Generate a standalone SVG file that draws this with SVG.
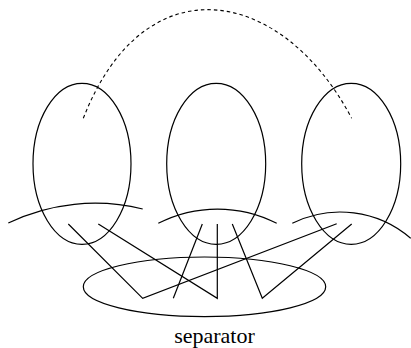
<svg xmlns="http://www.w3.org/2000/svg" width="411" height="348" viewBox="0 0 411 348">
<style>
.s{fill:none;stroke:#000;stroke-width:1.2;}
.d{fill:none;stroke:#000;stroke-width:1.1;stroke-dasharray:3.5 3;}
.t{font-family:"Liberation Serif","DejaVu Serif",serif;font-size:22px;fill:#000;}
</style>
<rect width="411" height="348" fill="#fff"/>
<g id="component-left"><ellipse class="s" cx="82" cy="163.8" rx="49" ry="80.5"/></g>
<g id="component-middle"><ellipse class="s" cx="216.2" cy="163.8" rx="49.5" ry="80.5"/></g>
<g id="component-right"><ellipse class="s" cx="351.2" cy="163.8" rx="49.5" ry="80.5"/></g>
<g id="separator"><ellipse class="s" cx="204.5" cy="286.8" rx="121.2" ry="29.8"/>
<text class="t" x="214.5" y="343.3" text-anchor="middle">separator</text></g>
<g id="connectors">
<path class="d" d="M83.3,118.3 C144.3,-38.3 281.7,-14.3 351.7,118.3"/>
<path class="s" d="M8.3,223 A200,200 0 0 1 142.7,209"/>
<path class="s" d="M158.3,223.3 A130,130 0 0 1 276.7,223.3"/>
<path class="s" d="M292.3,223.3 A107.6,107.6 0 0 1 410.7,238.3"/>
<polyline class="s" points="68.3,224 142.7,298.3 336.7,223.8"/>
<polyline class="s" points="98.3,224 217.3,298.3 217.3,224"/>
<line class="s" x1="202.3" y1="224" x2="173.3" y2="298.3"/>
<polyline class="s" points="232.3,224 262.3,298.3 351.7,224"/>
</g>
</svg>
